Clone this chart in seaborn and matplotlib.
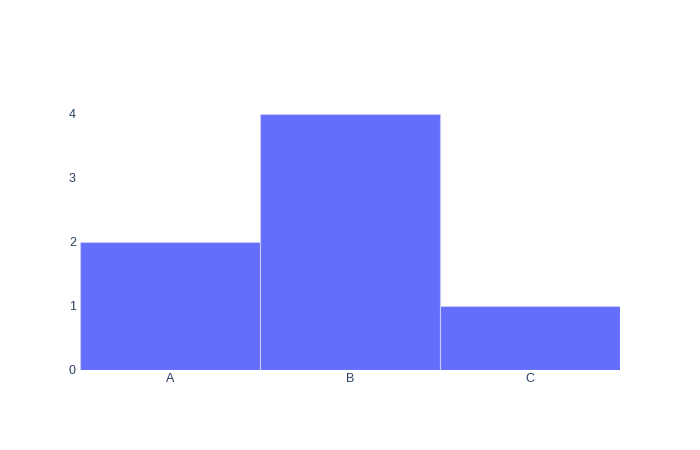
import pandas as pd
import seaborn as sns
import matplotlib.pyplot as plt

# Data
categories = ["A", "B", "C"]
counts = [2, 4, 1]

df = pd.DataFrame({"category": categories, "count": counts})

sns.set_theme(style="white")
plt.rcParams["font.family"] = ["Liberation Sans", "DejaVu Sans"]

fig = plt.figure(figsize=(7, 4.5), dpi=100)
ax = fig.add_axes([80 / 700, 80 / 450, 540 / 700, 270 / 450])

sns.barplot(
    data=df, x="category", y="count",
    color="#636efa", saturation=1, width=1.0,
    edgecolor="#c5c9fd", linewidth=0.8, ax=ax
)

ax.set_xlim(-0.5, 2.5)
ax.set_ylim(0, 270 / 64)
ax.set_yticks([0, 1, 2, 3, 4])
ax.set_xlabel("")
ax.set_ylabel("")
sns.despine(ax=ax, left=True, bottom=True)
ax.tick_params(axis="both", length=0, labelsize=9, colors="#2a3f5f")
ax.tick_params(axis="y", pad=3)
ax.tick_params(axis="x", pad=2.5)

fig.savefig("out.png", dpi=100, facecolor="white")
